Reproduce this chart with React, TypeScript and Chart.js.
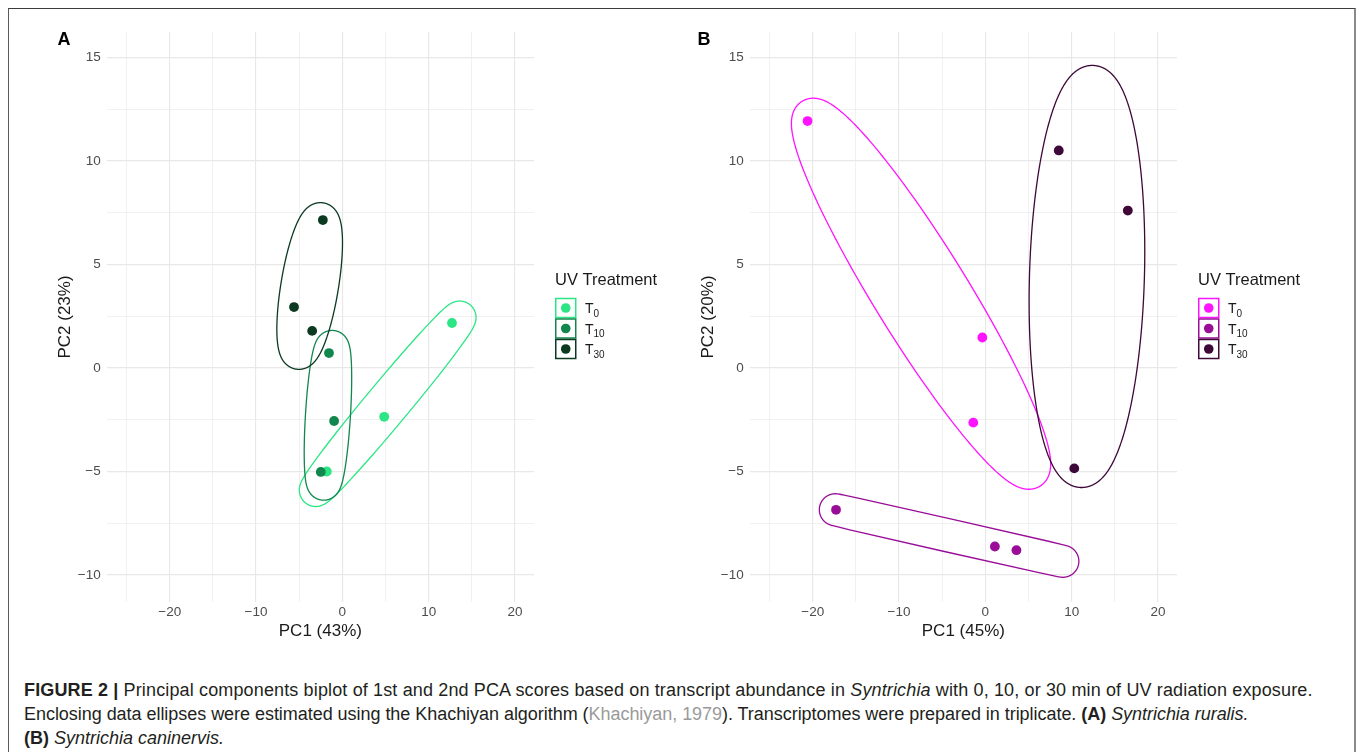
import React, { useEffect, useRef } from "react";
import { Chart, registerables } from "chart.js";

Chart.register(...registerables);

// ---------------- data ----------------
const groupBase = "T";
const groupSubscripts = ["0", "10", "30"];
const legendTitle = "UV Treatment";

// Panel A – Syntrichia ruralis
const ruralisT0_PC1 = [12.7, 4.85, -1.8];
const ruralisT0_PC2 = [2.17, -2.36, -5.0];
const ruralisT10_PC1 = [-1.55, -0.96, -2.5];
const ruralisT10_PC2 = [0.72, -2.56, -5.02];
const ruralisT30_PC1 = [-2.26, -5.6, -3.5];
const ruralisT30_PC2 = [7.14, 2.94, 1.79];

// Panel B – Syntrichia caninervis
const caninervisT0_PC1 = [-20.6, -0.35, -1.4];
const caninervisT0_PC2 = [11.92, 1.47, -2.64];
const caninervisT10_PC1 = [-17.3, 1.1, 3.6];
const caninervisT10_PC2 = [-6.85, -8.62, -8.8];
const caninervisT30_PC1 = [8.5, 16.5, 10.3];
const caninervisT30_PC2 = [10.5, 7.6, -4.85];

const xMajorTicks = [-20, -10, 0, 10, 20];
const yMajorTicks = [-10, -5, 0, 5, 10, 15];
const pc1Range = [-27.3, 22.2];
const pc2Range = [-11.3, 16.22];

const ruralisColors = ["#2CE685", "#12874D", "#0B3A21"];
const caninervisColors = ["#FF14FF", "#9A0D98", "#3E0838"];

const FONT = "'Liberation Sans', Arial, Helvetica, sans-serif";

// ---------------- helpers ----------------
const fmt = (v: number) => (v < 0 ? "\u2212" + Math.abs(v) : String(v));
const isIn = (arr: number[], v: number) => arr.some((a) => Math.abs(a - v) < 1e-6);

function inv3(m: number[][]) {
  const [a, b, c] = m[0];
  const [d, e, f] = m[1];
  const [g, h, i] = m[2];
  const A = e * i - f * h, B = -(d * i - f * g), C = d * h - e * g;
  const det = a * A + b * B + c * C;
  return [
    [A / det, -(b * i - c * h) / det, (b * f - c * e) / det],
    [B / det, (a * i - c * g) / det, -(a * f - c * d) / det],
    [C / det, -(a * h - b * g) / det, (a * e - b * d) / det],
  ];
}

// Khachiyan minimum-volume enclosing ellipse (2-D)
function khachiyan(pts: number[][], tol = 1e-6) {
  const n = pts.length;
  const mx = pts.reduce((s, p) => s + p[0], 0) / n;
  const my = pts.reduce((s, p) => s + p[1], 0) / n;
  const P = pts.map((p) => [p[0] - mx, p[1] - my]);
  let u = new Array(n).fill(1 / n);
  const d = 2;
  for (let it = 0; it < 5000; it++) {
    const X = [[0, 0, 0], [0, 0, 0], [0, 0, 0]];
    P.forEach((p, k) => {
      const q = [p[0], p[1], 1];
      for (let a = 0; a < 3; a++) for (let b = 0; b < 3; b++) X[a][b] += u[k] * q[a] * q[b];
    });
    const Xi = inv3(X);
    let maxM = -Infinity, j = 0;
    P.forEach((p, k) => {
      const q = [p[0], p[1], 1];
      let m = 0;
      for (let a = 0; a < 3; a++) for (let b = 0; b < 3; b++) m += q[a] * Xi[a][b] * q[b];
      if (m > maxM) { maxM = m; j = k; }
    });
    const step = (maxM - d - 1) / ((d + 1) * (maxM - 1));
    const nu = u.map((v) => v * (1 - step));
    nu[j] += step;
    const err = Math.sqrt(nu.reduce((s, v, k) => s + (v - u[k]) ** 2, 0));
    u = nu;
    if (err < tol) break;
  }
  let cx = 0, cy = 0;
  P.forEach((p, k) => { cx += u[k] * p[0]; cy += u[k] * p[1]; });
  let sxx = 0, sxy = 0, syy = 0;
  P.forEach((p, k) => {
    sxx += u[k] * p[0] * p[0];
    sxy += u[k] * p[0] * p[1];
    syy += u[k] * p[1] * p[1];
  });
  sxx -= cx * cx; sxy -= cx * cy; syy -= cy * cy;
  const tr = sxx + syy;
  const disc = Math.sqrt(((sxx - syy) / 2) ** 2 + sxy * sxy);
  const mu1 = tr / 2 + disc;
  const mu2 = Math.max(tr / 2 - disc, 1e-9);
  const theta = 0.5 * Math.atan2(2 * sxy, sxx - syy);
  return { cx: cx + mx, cy: cy + my, a: Math.sqrt(d * mu1), b: Math.sqrt(d * mu2), theta };
}

type PanelProps = {
  letter: string;
  letterX: number;
  xTitle: string;
  yTitle: string;
  xs: number[][];
  ys: number[][];
  colors: string[];
  left: number;
};

const EXPAND = 16;
const CW = 700;
const CH = 660;

function Panel({ letter, letterX, xTitle, yTitle, xs, ys, colors, left }: PanelProps) {
  const ref = useRef<HTMLCanvasElement | null>(null);
  useEffect(() => {
    if (!ref.current) return;
    const legendX = 555;

    const markPlugin = {
      id: "markEllipse",
      beforeDatasetsDraw(chart: any) {
        const ctx = chart.ctx;
        const sx = chart.scales.x, sy = chart.scales.y;
        chart.data.datasets.forEach((ds: any) => {
          const pts = ds.data.map((p: any) => [sx.getPixelForValue(p.x), sy.getPixelForValue(p.y)]);
          const e = khachiyan(pts);
          const c = Math.cos(e.theta), s = Math.sin(e.theta);
          ctx.save();
          ctx.beginPath();
          const N = 720;
          for (let k = 0; k <= N; k++) {
            // parametrise by outward normal direction
            const phi = (k / N) * Math.PI * 2;
            const cp = Math.cos(phi), sp = Math.sin(phi);
            const den = Math.sqrt(e.a * e.a * cp * cp + e.b * e.b * sp * sp);
            const lx = (e.a * e.a * cp) / den + EXPAND * cp;
            const ly = (e.b * e.b * sp) / den + EXPAND * sp;
            const qx = e.cx + lx * c - ly * s;
            const qy = e.cy + lx * s + ly * c;
            if (k === 0) ctx.moveTo(qx, qy); else ctx.lineTo(qx, qy);
          }
          ctx.closePath();
          ctx.strokeStyle = ds.backgroundColor;
          ctx.lineWidth = 1.3;
          ctx.stroke();
          ctx.restore();
        });
      },
      afterDraw(chart: any) {
        const ctx = chart.ctx;
        ctx.save();
        ctx.fillStyle = "#000";
        ctx.textAlign = "left";
        ctx.textBaseline = "alphabetic";
        ctx.font = `bold 18px ${FONT}`;
        ctx.fillText(letter, letterX, 45);

        ctx.font = `16.5px ${FONT}`;
        ctx.fillStyle = "#1A1A1A";
        ctx.textBaseline = "middle";
        ctx.fillText(legendTitle, legendX, 280);
        chart.data.datasets.forEach((ds: any, i: number) => {
          const cy = 308 + i * 20.5;
          ctx.strokeStyle = ds.backgroundColor;
          ctx.lineWidth = 1.5;
          ctx.strokeRect(legendX + 0.75, cy - 9.5, 20, 19);
          ctx.beginPath();
          ctx.arc(legendX + 10.75, cy, 4.8, 0, Math.PI * 2);
          ctx.fillStyle = ds.backgroundColor;
          ctx.fill();
          ctx.fillStyle = "#1A1A1A";
          ctx.textBaseline = "alphabetic";
          ctx.font = `14px ${FONT}`;
          ctx.fillText(groupBase, legendX + 30, cy + 5);
          const w = ctx.measureText(groupBase).width;
          ctx.font = `10px ${FONT}`;
          ctx.fillText(groupSubscripts[i], legendX + 30 + w, cy + 8.5);
        });
        ctx.restore();
      },
    };

    const datasets = xs.map((xv, g) => ({
      label: groupBase + groupSubscripts[g],
      data: xv.map((x, k) => ({ x, y: ys[g][k] })),
      backgroundColor: colors[g],
      borderColor: colors[g],
      borderWidth: 0,
      pointRadius: 4.9,
      pointHoverRadius: 4.9,
      order: 3 - g,
    }));

    const chart = new Chart(ref.current, {
      type: "scatter",
      data: { datasets },
      plugins: [markPlugin],
      options: {
        responsive: false,
        animation: false,
        events: [],
        layout: { padding: { left: 54.8, top: 32, right: CW - 534, bottom: 18 } },
        plugins: { legend: { display: false }, tooltip: { enabled: false } },
        scales: {
          x: {
            type: "linear",
            position: "bottom",
            min: pc1Range[0],
            max: pc1Range[1],
            afterFit: (s: any) => { s.height = CH - 18 - 602; },
            border: { display: false },
            grid: {
              color: "#E8E8E8",
              drawTicks: false,
              lineWidth: (c: any) => (c.tick && isIn(xMajorTicks, c.tick.value) ? 1.15 : 0.6),
            },
            ticks: {
              stepSize: 5,
              autoSkip: false,
              includeBounds: false,
              maxRotation: 0,
              padding: 2,
              color: "#4D4D4D",
              font: { family: FONT, size: 13.5 },
              callback: (v: any) => (isIn(xMajorTicks, Number(v)) ? fmt(Number(v)) : ""),
            },
            title: {
              display: true,
              text: xTitle,
              color: "#1A1A1A",
              font: { family: FONT, size: 17 },
              padding: { top: 0, bottom: 0 },
            },
          },
          y: {
            type: "linear",
            position: "left",
            min: pc2Range[0],
            max: pc2Range[1],
            afterFit: (s: any) => { s.width = 51.9; },
            border: { display: false },
            grid: {
              color: "#E8E8E8",
              drawTicks: false,
              lineWidth: (c: any) => (c.tick && isIn(yMajorTicks, c.tick.value) ? 1.15 : 0.6),
            },
            ticks: {
              stepSize: 2.5,
              autoSkip: false,
              includeBounds: false,
              padding: 6,
              color: "#4D4D4D",
              font: { family: FONT, size: 13.5 },
              callback: (v: any) => (isIn(yMajorTicks, Number(v)) ? fmt(Number(v)) : ""),
            },
            title: {
              display: true,
              text: yTitle,
              color: "#1A1A1A",
              font: { family: FONT, size: 17 },
              padding: { top: 0, bottom: 0 },
            },
          },
        },
      } as any,
    });
    return () => chart.destroy();
  }, []);
  return (
    <canvas
      ref={ref}
      width={CW}
      height={CH}
      style={{ position: "absolute", left, top: 0, width: CW, height: CH }}
    />
  );
}

export default function App() {
  return (
    <div
      style={{
        position: "absolute",
        left: 0,
        top: 0,
        width: 1357,
        height: 752,
        overflow: "hidden",
        background: "#fff",
        fontFamily: FONT,
      }}
    >
      <div
        style={{
          position: "absolute",
          left: 8,
          top: 8,
          width: 1345,
          height: 800,
          borderTop: "1.5px solid #3c3c3c",
          borderLeft: "1px solid #5a5a5a",
          borderRight: "2px solid #8a8a8a",
        }}
      />
      <Panel
        letter="A"
        letterX={57.5}
        xTitle="PC1 (43%)"
        yTitle="PC2 (23%)"
        xs={[ruralisT0_PC1, ruralisT10_PC1, ruralisT30_PC1]}
        ys={[ruralisT0_PC2, ruralisT10_PC2, ruralisT30_PC2]}
        colors={ruralisColors}
        left={0}
      />
      <Panel
        letter="B"
        letterX={54.5}
        xTitle="PC1 (45%)"
        yTitle="PC2 (20%)"
        xs={[caninervisT0_PC1, caninervisT10_PC1, caninervisT30_PC1]}
        ys={[caninervisT0_PC2, caninervisT10_PC2, caninervisT30_PC2]}
        colors={caninervisColors}
        left={643}
      />
      <div
        style={{
          position: "absolute",
          left: 24,
          top: 678,
          fontSize: 18,
          lineHeight: "24px",
          color: "#231F20",
          whiteSpace: "nowrap",
        }}
      >
        <div style={{ letterSpacing: "0.14px" }}>
          <b>FIGURE 2 |</b> Principal components biplot of 1st and 2nd PCA scores based on transcript abundance in{" "}
          <i>Syntrichia</i> with 0, 10, or 30 min of UV radiation exposure.
        </div>
        <div style={{ letterSpacing: "-0.04px" }}>
          Enclosing data ellipses were estimated using the Khachiyan algorithm (
          <span style={{ color: "#9A9A9A" }}>Khachiyan, 1979</span>). Transcriptomes were prepared in triplicate.{" "}
          <b>(A)</b> <i>Syntrichia ruralis.</i>
        </div>
        <div>
          <b>(B)</b> <i>Syntrichia caninervis.</i>
        </div>
      </div>
    </div>
  );
}
